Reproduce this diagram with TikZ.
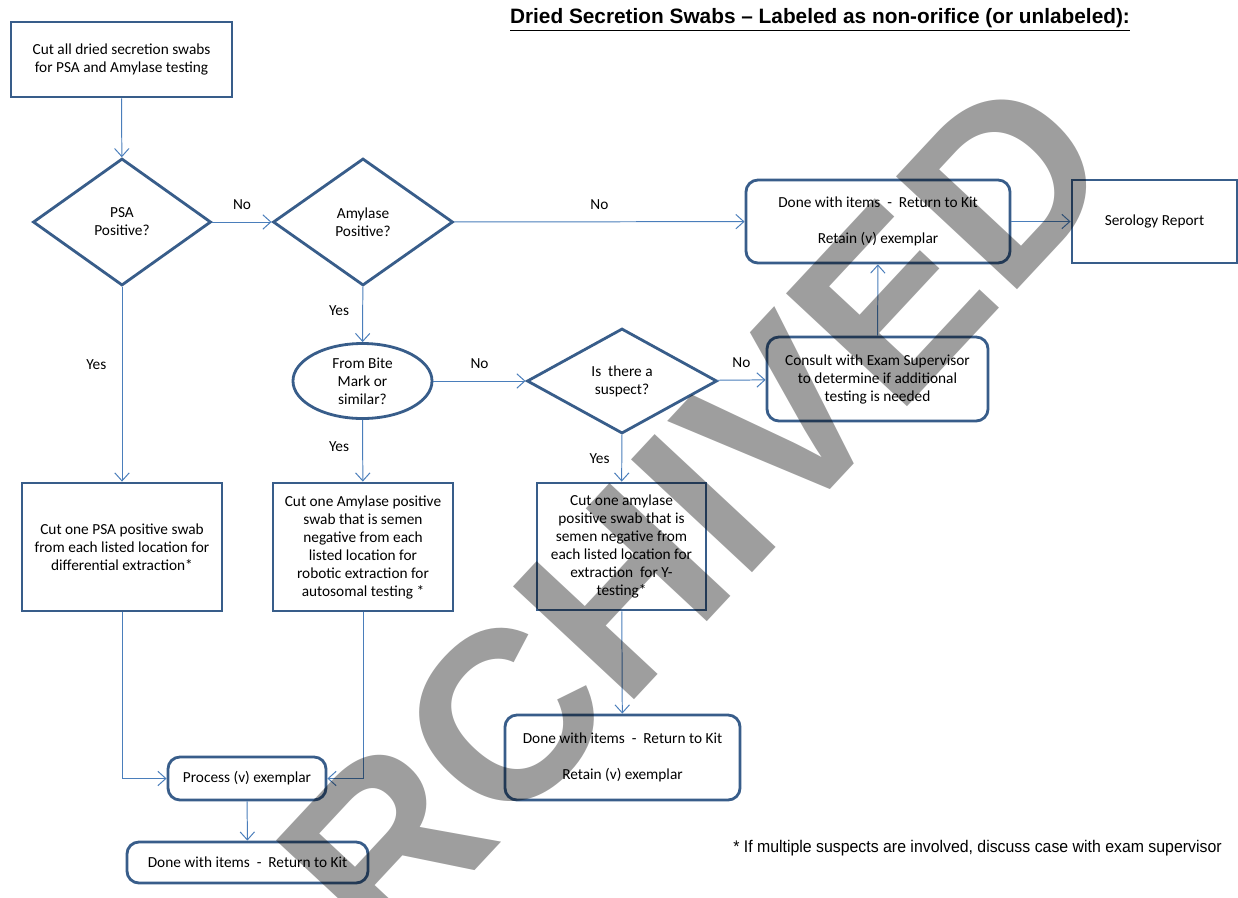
\documentclass[tikz,border=0pt]{standalone}
\usepackage{fontspec}
\setmainfont{Carlito}
\newfontfamily\titlefont{Liberation Sans}
\newfontfamily\notefont[FakeStretch=0.94]{Liberation Sans}
\usetikzlibrary{shapes.geometric, arrows.meta}
\definecolor{boxline}{HTML}{385D8A}
\definecolor{connline}{HTML}{4A7EBB}
\tikzset{>={Straight Barb[length=2mm,width=3.6mm]},
  box/.style={draw=boxline, line width=2pt, fill=white, align=center, inner sep=2pt},
  roundbox/.style={box, rounded corners=0.3cm},
  decision/.style={box, diamond, inner sep=0pt},
  oval/.style={box, ellipse, inner sep=0pt},
  conn/.style={->, draw=connline, line width=0.7pt}
}

\begin{document}
\begin{tikzpicture}[x=0.025cm, y=-0.025cm, font=\fontsize{10.9}{12.8}\selectfont]
    \useasboundingbox[fill=white] (0,0) rectangle (1238,897);
    \node[font=\titlefont\bfseries\fontsize{14.8}{17}\selectfont] (title) at (820,20) {\underline{Dried Secretion Swabs – Labeled as non-orifice (or unlabeled):}};
    \node[box, minimum width=5.525cm, minimum height=1.875cm] (start) at (121.5,59.5) {Cut all dried secretion swabs\\for PSA and Amylase testing};
    \node[decision, minimum width=4.45cm, minimum height=3.175cm] (psa) at (122,222) {PSA\\Positive?};
    \node[decision, minimum width=4.5cm, minimum height=3.175cm] (amy) at (363,222) {Amylase\\Positive?};
    \node[roundbox, minimum width=6.6cm, minimum height=2.075cm] (done) at (878,221.5) {Done with items\ \ -\ \ Return to Kit\\[12.7pt]Retain (v) exemplar};
    \node[box, minimum width=4.125cm, minimum height=2.075cm] (sero) at (1154.5,221.5) {Serology Report};
    \node[oval, minimum width=3.475cm, minimum height=1.875cm] (bite) at (362.5,381) {From Bite\\Mark or\\similar?};
    \node[decision, minimum width=4.75cm, minimum height=2.625cm] (susp) at (622,381) {Is\ \ there a\\suspect?};
    \node[roundbox, minimum width=5.525cm, minimum height=2.1cm] (cons) at (877.5,379) {Consult with Exam Supervisor\\to determine if additional\\testing is needed};
    \node[box, minimum width=5cm, minimum height=3.2cm] (cutA) at (122,547) {Cut one PSA positive swab\\from each listed location for\\differential extraction*};
    \node[box, minimum width=4.5cm, minimum height=3.2cm] (cutB) at (363,547) {Cut one Amylase positive\\swab that is semen\\negative from each\\listed location for\\robotic extraction for\\autosomal testing *};
    \node[box, minimum width=4.225cm, minimum height=3.175cm] (cutC) at (621.5,546.5) {Cut one amylase\\positive swab that is\\semen negative from\\each listed location for\\extraction\ \ for Y-\\testing*};
    \node[roundbox, minimum width=5.875cm, minimum height=2.125cm] (doneC) at (622.5,757.5) {Done with items\ \ -\ \ Return to Kit\\[12.7pt]Retain (v) exemplar};
    \node[roundbox, minimum width=3.95cm, minimum height=1.075cm] (proc) at (247,778.5) {Process (v) exemplar};
    \node[roundbox, minimum width=6.025cm, minimum height=1.025cm] (doneB) at (247.5,862.5) {Done with items\ \ -\ \ Return to Kit};
    \node[font=\notefont\fontsize{12}{14}\selectfont] (note) at (977.5,848) {* If multiple suspects are involved, discuss case with exam supervisor};

    \draw[conn] (start) -- (psa);
    \draw[conn] (psa) -- node[above=5pt] {No} (amy);
    \draw[conn] (amy) -- node[above=5pt] {No} (done);
    \draw[conn] (done) -- (sero);
    \draw[conn] (psa) -- node[pos=0.4, left=7.5pt] {Yes} (cutA);
    \draw[conn] (amy) -- node[pos=0.43, left=6pt] {Yes} (bite);
    \draw[conn] (bite) -- node[above=5pt] {No} (susp);
    \draw[conn] (susp) -- node[above=5pt] {No} (cons);
    \draw[conn] (cons) -- (done);
    \draw[conn] (bite) -- node[pos=0.43, left=6pt] {Yes} (cutB);
    \draw[conn] (susp) -- node[pos=0.5, left=5pt] {Yes} (cutC);
    \draw[conn] (cutC) -- (doneC);
    \draw[conn] (cutA) |- (proc);
    \draw[conn] (cutB) |- (proc);
    \draw[conn] (proc) -- (doneB);

    \node[rotate=47, text=black, opacity=0.38, inner sep=0pt, font=\titlefont\bfseries\fontsize{171}{171}\selectfont] (mark) at (636,577) {ARCHIVED};
\end{tikzpicture}
\end{document}
